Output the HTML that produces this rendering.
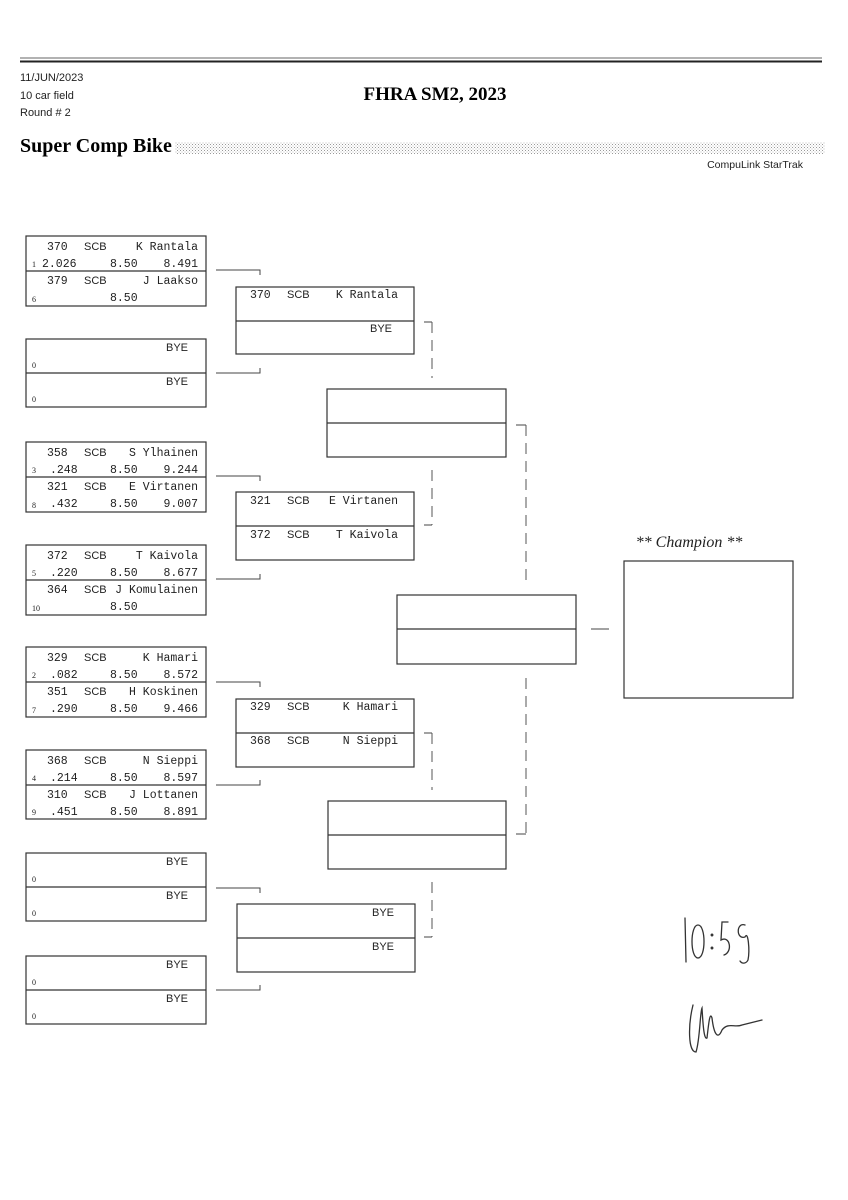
<!DOCTYPE html>
<html><head><meta charset="utf-8"><style>
html,body{margin:0;padding:0;background:#fff;width:848px;height:1200px;overflow:hidden}
svg{display:block}
.m{font-family:"Liberation Mono",monospace;font-size:11.5px;fill:#222}
.s{font-family:"Liberation Sans",sans-serif;font-size:11px;fill:#222}
.sd{font-family:"Liberation Serif",serif;font-size:8px;fill:#222}
.b{fill:none;stroke:#333;stroke-width:1.2}
.c{fill:none;stroke:#444;stroke-width:1}
.d{fill:none;stroke:#555;stroke-width:1;stroke-dasharray:11,7}
</style></head><body>
<svg width="848" height="1200" xmlns="http://www.w3.org/2000/svg">
<defs><pattern id="dots" width="3" height="3" patternUnits="userSpaceOnUse"><rect width="1" height="1" fill="#999"/><rect x="1.5" y="1.5" width="1" height="1" fill="#bbb"/></pattern></defs>
<line x1="20" y1="58" x2="822" y2="58" stroke="#666" stroke-width="1"/>
<line x1="20" y1="61.5" x2="822" y2="61.5" stroke="#222" stroke-width="2"/>
<text x="20" y="81" class="s">11/JUN/2023</text>
<text x="20" y="99" class="s">10 car field</text>
<text x="20" y="116" class="s">Round # 2</text>
<text x="435" y="100" text-anchor="middle" style="font-family:'Liberation Serif',serif;font-weight:bold;font-size:19px">FHRA SM2, 2023</text>
<text x="20" y="152" style="font-family:'Liberation Serif',serif;font-weight:bold;font-size:20px">Super Comp Bike</text>
<rect x="175" y="142" width="650" height="12" fill="url(#dots)"/>
<text x="803" y="168" text-anchor="end" class="s" style="font-size:10.5px">CompuLink StarTrak</text>

<!-- Round 1 boxes -->
<g>
<rect class="b" x="26" y="236" width="180" height="70"/><line class="b" x1="26" y1="271" x2="206" y2="271"/>
<text class="m" x="47" y="250">370</text><text class="s" x="84" y="250">SCB</text><text class="m" x="198" y="250" text-anchor="end">K Rantala</text>
<text class="sd" x="32" y="267">1</text><text class="m" x="42" y="267">2.026</text><text class="m" x="110" y="267">8.50</text><text class="m" x="198" y="267" text-anchor="end">8.491</text>
<text class="m" x="47" y="284">379</text><text class="s" x="84" y="284">SCB</text><text class="m" x="198" y="284" text-anchor="end">J Laakso</text>
<text class="sd" x="32" y="302">6</text><text class="m" x="110" y="301">8.50</text>
</g>
<g>
<rect class="b" x="26" y="339" width="180" height="68"/><line class="b" x1="26" y1="373" x2="206" y2="373"/>
<text class="s" x="188" y="351" text-anchor="end">BYE</text><text class="sd" x="32" y="368">0</text>
<text class="s" x="188" y="385" text-anchor="end">BYE</text><text class="sd" x="32" y="402">0</text>
</g>
<g>
<rect class="b" x="26" y="442" width="180" height="70"/><line class="b" x1="26" y1="477" x2="206" y2="477"/>
<text class="m" x="47" y="456">358</text><text class="s" x="84" y="456">SCB</text><text class="m" x="198" y="456" text-anchor="end">S Ylhainen</text>
<text class="sd" x="32" y="473">3</text><text class="m" x="50" y="473">.248</text><text class="m" x="110" y="473">8.50</text><text class="m" x="198" y="473" text-anchor="end">9.244</text>
<text class="m" x="47" y="490">321</text><text class="s" x="84" y="490">SCB</text><text class="m" x="198" y="490" text-anchor="end">E Virtanen</text>
<text class="sd" x="32" y="508">8</text><text class="m" x="50" y="507">.432</text><text class="m" x="110" y="507">8.50</text><text class="m" x="198" y="507" text-anchor="end">9.007</text>
</g>
<g>
<rect class="b" x="26" y="545" width="180" height="70"/><line class="b" x1="26" y1="580" x2="206" y2="580"/>
<text class="m" x="47" y="559">372</text><text class="s" x="84" y="559">SCB</text><text class="m" x="198" y="559" text-anchor="end">T Kaivola</text>
<text class="sd" x="32" y="576">5</text><text class="m" x="50" y="576">.220</text><text class="m" x="110" y="576">8.50</text><text class="m" x="198" y="576" text-anchor="end">8.677</text>
<text class="m" x="47" y="593">364</text><text class="s" x="84" y="593">SCB</text><text class="m" x="198" y="593" text-anchor="end">J Komulainen</text>
<text class="sd" x="32" y="611">10</text><text class="m" x="110" y="610">8.50</text>
</g>
<g>
<rect class="b" x="26" y="647" width="180" height="70"/><line class="b" x1="26" y1="682" x2="206" y2="682"/>
<text class="m" x="47" y="661">329</text><text class="s" x="84" y="661">SCB</text><text class="m" x="198" y="661" text-anchor="end">K Hamari</text>
<text class="sd" x="32" y="678">2</text><text class="m" x="50" y="678">.082</text><text class="m" x="110" y="678">8.50</text><text class="m" x="198" y="678" text-anchor="end">8.572</text>
<text class="m" x="47" y="695">351</text><text class="s" x="84" y="695">SCB</text><text class="m" x="198" y="695" text-anchor="end">H Koskinen</text>
<text class="sd" x="32" y="713">7</text><text class="m" x="50" y="712">.290</text><text class="m" x="110" y="712">8.50</text><text class="m" x="198" y="712" text-anchor="end">9.466</text>
</g>
<g>
<rect class="b" x="26" y="750" width="180" height="69"/><line class="b" x1="26" y1="785" x2="206" y2="785"/>
<text class="m" x="47" y="764">368</text><text class="s" x="84" y="764">SCB</text><text class="m" x="198" y="764" text-anchor="end">N Sieppi</text>
<text class="sd" x="32" y="781">4</text><text class="m" x="50" y="781">.214</text><text class="m" x="110" y="781">8.50</text><text class="m" x="198" y="781" text-anchor="end">8.597</text>
<text class="m" x="47" y="798">310</text><text class="s" x="84" y="798">SCB</text><text class="m" x="198" y="798" text-anchor="end">J Lottanen</text>
<text class="sd" x="32" y="815">9</text><text class="m" x="50" y="815">.451</text><text class="m" x="110" y="815">8.50</text><text class="m" x="198" y="815" text-anchor="end">8.891</text>
</g>
<g>
<rect class="b" x="26" y="853" width="180" height="68"/><line class="b" x1="26" y1="887" x2="206" y2="887"/>
<text class="s" x="188" y="865" text-anchor="end">BYE</text><text class="sd" x="32" y="882">0</text>
<text class="s" x="188" y="899" text-anchor="end">BYE</text><text class="sd" x="32" y="916">0</text>
</g>
<g>
<rect class="b" x="26" y="956" width="180" height="68"/><line class="b" x1="26" y1="990" x2="206" y2="990"/>
<text class="s" x="188" y="968" text-anchor="end">BYE</text><text class="sd" x="32" y="985">0</text>
<text class="s" x="188" y="1002" text-anchor="end">BYE</text><text class="sd" x="32" y="1019">0</text>
</g>

<!-- R1 connectors -->
<path class="c" d="M216 270 H260 V275"/><path class="c" d="M216 373 H260 V368"/>
<path class="c" d="M216 476 H260 V481"/><path class="c" d="M216 579 H260 V574"/>
<path class="c" d="M216 682 H260 V687"/><path class="c" d="M216 785 H260 V780"/>
<path class="c" d="M216 888 H260 V893"/><path class="c" d="M216 990 H260 V985"/>

<!-- Round 2 -->
<rect class="b" x="236" y="287" width="178" height="67"/><line class="b" x1="236" y1="321" x2="414" y2="321"/>
<text class="m" x="250" y="298">370</text><text class="s" x="287" y="298">SCB</text><text class="m" x="398" y="298" text-anchor="end">K Rantala</text>
<text class="s" x="392" y="332" text-anchor="end">BYE</text>

<rect class="b" x="236" y="492" width="178" height="68"/><line class="b" x1="236" y1="526" x2="414" y2="526"/>
<text class="m" x="250" y="504">321</text><text class="s" x="287" y="504">SCB</text><text class="m" x="398" y="504" text-anchor="end">E Virtanen</text>
<text class="m" x="250" y="538">372</text><text class="s" x="287" y="538">SCB</text><text class="m" x="398" y="538" text-anchor="end">T Kaivola</text>

<rect class="b" x="236" y="699" width="178" height="68"/><line class="b" x1="236" y1="733" x2="414" y2="733"/>
<text class="m" x="250" y="710">329</text><text class="s" x="287" y="710">SCB</text><text class="m" x="398" y="710" text-anchor="end">K Hamari</text>
<text class="m" x="250" y="744">368</text><text class="s" x="287" y="744">SCB</text><text class="m" x="398" y="744" text-anchor="end">N Sieppi</text>

<rect class="b" x="237" y="904" width="178" height="68"/><line class="b" x1="237" y1="938" x2="415" y2="938"/>
<text class="s" x="394" y="916" text-anchor="end">BYE</text>
<text class="s" x="394" y="950" text-anchor="end">BYE</text>

<!-- R2 connectors -->
<path class="c" d="M424 322 H432"/><path class="d" d="M432 322 V378"/>
<path class="d" d="M432 470 V525"/><path class="c" d="M424 525 H432"/>
<path class="c" d="M424 733 H432"/><path class="d" d="M432 733 V790"/>
<path class="d" d="M432 882 V937"/><path class="c" d="M424 937 H432"/>

<!-- Round 3 -->
<rect class="b" x="327" y="389" width="179" height="68"/><line class="b" x1="327" y1="423" x2="506" y2="423"/>
<rect class="b" x="328" y="801" width="178" height="68"/><line class="b" x1="328" y1="835" x2="506" y2="835"/>
<path class="c" d="M516 425 H526"/><path class="d" d="M526 425 V582"/>
<path class="d" d="M526 678 V834"/><path class="c" d="M516 834 H526"/>

<!-- Final -->
<rect class="b" x="397" y="595" width="179" height="69"/><line class="b" x1="397" y1="629" x2="576" y2="629"/>
<line class="c" x1="591" y1="629" x2="609" y2="629"/>

<text x="689" y="547" text-anchor="middle" style="font-family:'Liberation Serif',serif;font-style:italic;font-size:16px;fill:#222">** Champion **</text>
<rect class="b" x="624" y="561" width="169" height="137"/>

<!-- handwriting -->
<g fill="none" stroke="#333" stroke-width="1.3" stroke-linecap="round">
<path d="M685 918 L686 962"/>
<path d="M698 925 C690 925 690 958 698 958 C706 958 706 925 698 925"/>
<circle cx="712" cy="935" r="0.8"/><circle cx="712" cy="948" r="0.8"/>
<path d="M728 922 L722 922 L721 940 C730 935 733 952 724 955"/>
<path d="M745 925 C736 922 736 940 745 937 C748 930 750 950 748 960 C746 964 742 964 740 961"/>
<path d="M693 1005 C688 1025 688 1052 696 1052 C700 1040 700 1012 702 1008 C703 1025 704 1040 707 1038 C709 1020 710 1012 712 1018 C714 1035 718 1040 722 1030 C728 1022 735 1028 742 1025 L762 1020"/>
</g>
</svg>
</body></html>
